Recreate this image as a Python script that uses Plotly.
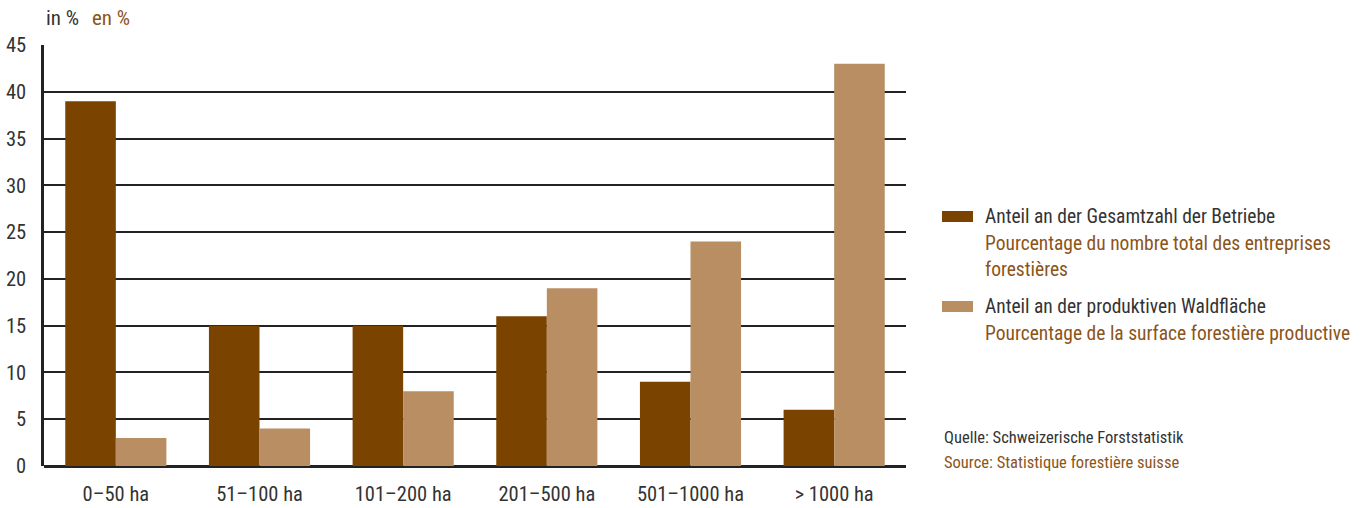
import plotly.graph_objects as go

categories = ["0–50 ha", "51–100 ha", "101–200 ha", "201–500 ha", "501–1000 ha", "> 1000 ha"]
share_enterprises = [39, 15, 15, 16, 9, 6]
share_area = [3, 4, 8, 19, 24, 43]
y_ticks = [0, 5, 10, 15, 20, 25, 30, 35, 40, 45]

DARK = "#7B4300"
LIGHT = "#B98E63"
TXT = "#333333"
ORG = "#8B5419"
FONT = "Roboto Condensed, Liberation Sans Narrow, Arial Narrow, sans-serif"

fig = go.Figure()
fig.add_trace(go.Bar(x=categories, y=share_enterprises, marker=dict(color=DARK, line=dict(width=0)),
                     name="Anteil an der Gesamtzahl der Betriebe", showlegend=False))
fig.add_trace(go.Bar(x=categories, y=share_area, marker=dict(color=LIGHT, line=dict(width=0)),
                     name="Anteil an der produktiven Waldfläche", showlegend=False))

W, H = 1372, 508
# target plot area in page px: x 44..906, y 45..466
PX0, PX1, PY0, PY1 = 44, 906, 45, 466
L, T = PX0, PY0
R = W - PX1
B = H - PY1
pw = PX1 - PX0
ph = PY1 - PY0

fig.update_layout(
    width=W, height=H,
    margin=dict(l=L, r=R, t=T, b=B, pad=0, autoexpand=False),
    paper_bgcolor="white", plot_bgcolor="white",
    barmode="group", bargap=0.296, bargroupgap=0,
    font=dict(family=FONT, size=20, color=TXT),
    xaxis=dict(showgrid=False, showline=False, ticks="", tickfont=dict(size=20.5, color=TXT),
               ticklabelstandoff=13, automargin=False),
    yaxis=dict(range=[0, 45], tickvals=y_ticks, showgrid=True, gridcolor="#222222", gridwidth=1.5,
               showline=True, linecolor="#222222", linewidth=2.5, ticks="", zeroline=True,
               zerolinecolor="#222222", zerolinewidth=3, tickfont=dict(size=20.5, color=TXT),
               ticklabelstandoff=11, automargin=False),
)

def ax(xpage):
    return (xpage - PX0) / pw

def ay(ypage):
    return (PY1 - ypage) / ph

texts = [
    (44, 18, "in %", TXT, 21),
    (90, 18, "en %", ORG, 21),
    (983, 216, "Anteil an der Gesamtzahl der Betriebe", TXT, 19.5),
    (983, 243, "Pourcentage du nombre total des entreprises", ORG, 19.5),
    (983, 269, "forestières", ORG, 19.5),
    (983, 306, "Anteil an der produktiven Waldfläche", TXT, 19.5),
    (983, 333, "Pourcentage de la surface forestière productive", ORG, 19.5),
    (942, 437, "Quelle: Schweizerische Forststatistik", TXT, 16.5),
    (942, 462, "Source: Statistique forestière suisse", ORG, 16.5),
]
annotations = [dict(x=ax(x), y=ay(y), text=t, font=dict(color=c, size=s), xref="paper", yref="paper",
                    xanchor="left", yanchor="middle", showarrow=False)
               for x, y, t, c, s in texts]
fig.update_layout(annotations=annotations)

def rect(x0, y0, x1, y1, color):
    return dict(type="rect", xref="paper", yref="paper",
                x0=ax(x0), x1=ax(x1), y0=ay(y1), y1=ay(y0),
                fillcolor=color, line=dict(width=0), layer="above")

fig.update_layout(shapes=[rect(942, 211, 973, 222, DARK), rect(942, 301, 973, 312, LIGHT)])

fig.write_html("out.html", config={"displayModeBar": False},
               post_script="document.body.style.margin='0';document.body.style.overflow='hidden';")
